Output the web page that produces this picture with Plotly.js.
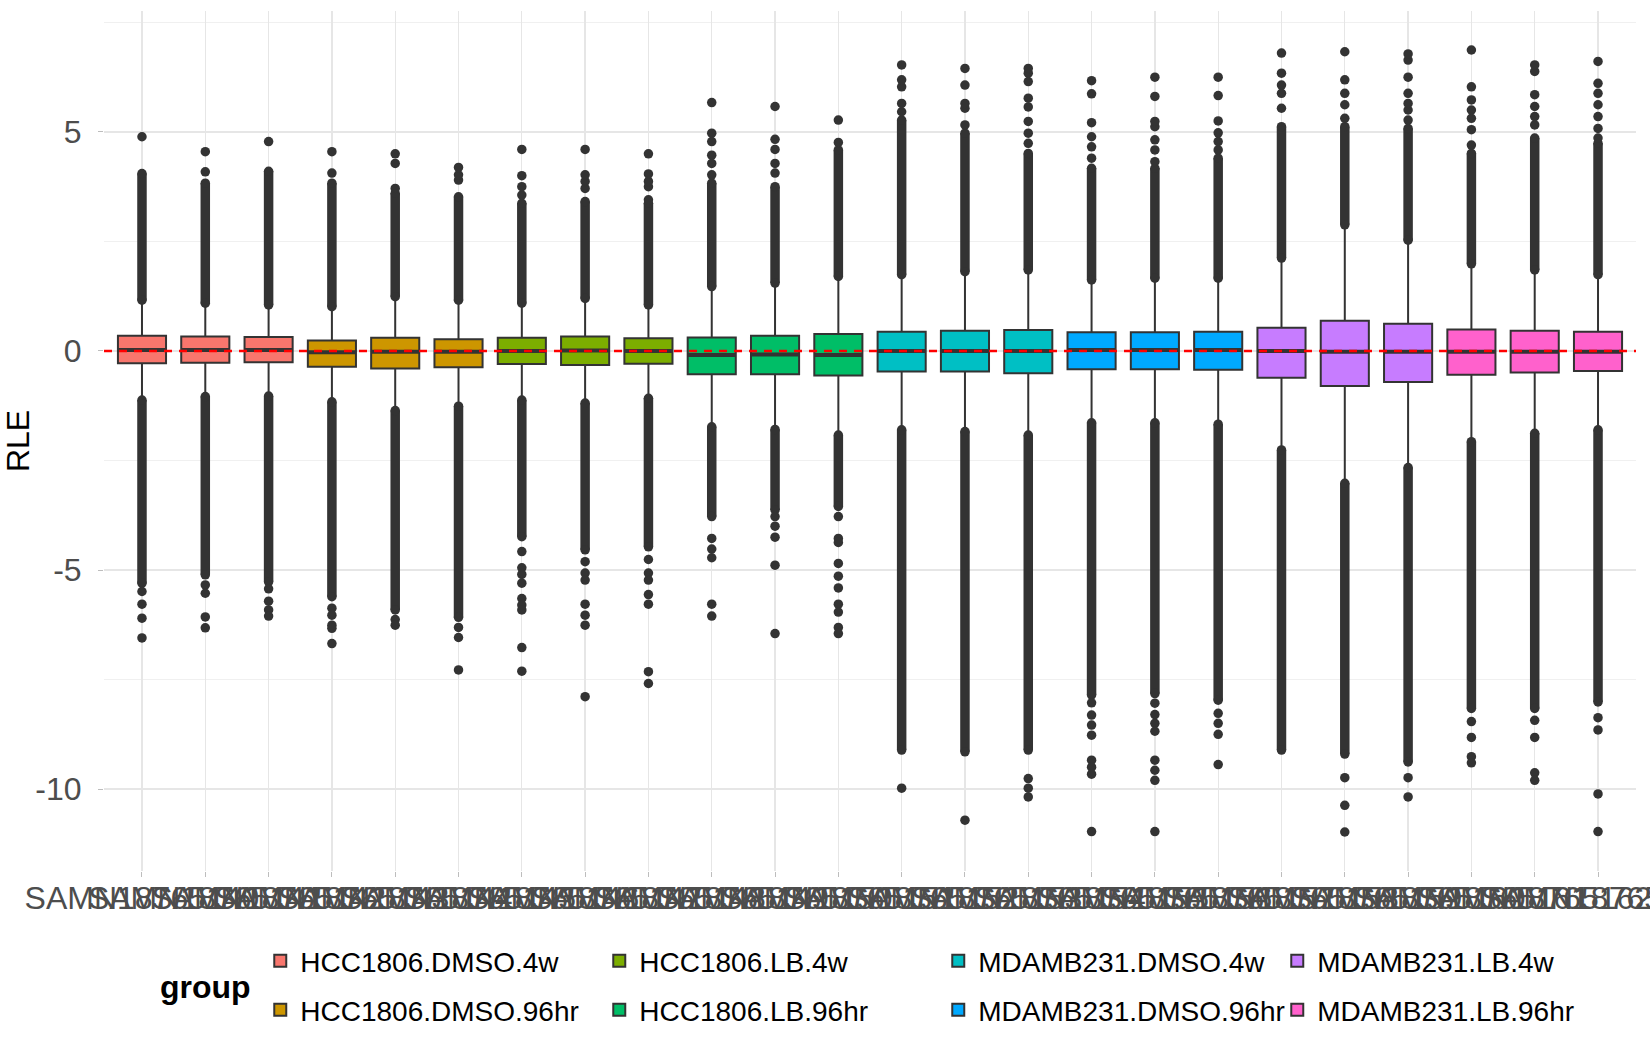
<!DOCTYPE html>
<html>
<head>
<meta charset="utf-8">
<script src="https://cdn.plot.ly/plotly-3.0.1.min.js"></script>
<style>
  body { margin: 0; background: #fff; }
  #plot { width: 1650px; height: 1050px; }
</style>
</head>
<body>
<div id="plot"></div>
<script>
// sample ids along the x axis
var samples = ['SAMN18765140','SAMN18765141','SAMN18765142','SAMN18765143','SAMN18765144','SAMN18765145',
   'SAMN18765146','SAMN18765147','SAMN18765148','SAMN18765149','SAMN18765150','SAMN18765151',
   'SAMN18765152','SAMN18765153','SAMN18765154','SAMN18765155','SAMN18765156','SAMN18765157',
   'SAMN18765158','SAMN18765159','SAMN18765160','SAMN18765161','SAMN18765162','SAMN18765163'];

var groupNames = ['HCC1806.DMSO.4w','HCC1806.DMSO.96hr','HCC1806.LB.4w','HCC1806.LB.96hr',
   'MDAMB231.DMSO.4w','MDAMB231.DMSO.96hr','MDAMB231.LB.4w','MDAMB231.LB.96hr'];
var groupColors = ['#F8766D','#CD9600','#7CAE00','#00BE67','#00BFC4','#00A9FF','#C77CFF','#FF61CC'];
var sampleGroup = [0,0,0,1,1,1,2,2,2,3,3,3,4,4,4,5,5,5,6,6,6,7,7,7];

// box stats (RLE)
var q1 = [-0.28,-0.27,-0.26,-0.36,-0.40,-0.37,-0.30,-0.32,-0.29,-0.53,-0.53,-0.56,
   -0.47,-0.47,-0.51,-0.42,-0.42,-0.43,-0.61,-0.80,-0.71,-0.54,-0.49,-0.46];
var median = [0.02,0.02,0.02,-0.03,-0.02,-0.02,0.00,0.01,0.00,-0.09,-0.08,-0.09,
   0.00,0.00,0.00,0.02,0.02,0.02,0.00,-0.02,-0.02,-0.02,-0.02,-0.02];
var q3 = [0.35,0.33,0.32,0.24,0.30,0.27,0.30,0.33,0.29,0.31,0.35,0.39,
   0.44,0.46,0.48,0.43,0.43,0.44,0.53,0.69,0.62,0.49,0.46,0.44];
var lowerWhisker = [-1.09,-1.01,-1.00,-1.13,-1.33,-1.23,-1.09,-1.16,-1.05,-1.70,-1.76,-1.89,
   -1.77,-1.81,-1.89,-1.61,-1.61,-1.64,-2.23,-2.99,-2.63,-2.04,-1.85,-1.77];
var upperWhisker = [1.13,1.06,1.02,0.98,1.21,1.13,1.06,1.17,1.02,1.44,1.52,1.67,
   1.71,1.78,1.82,1.59,1.63,1.63,2.09,2.85,2.50,1.96,1.82,1.71];

// runs of outliers so dense they merge into a solid bar
var upperRunLo = [1.16,1.09,1.05,1.01,1.24,1.16,1.09,1.20,1.05,1.47,1.55,1.70,
   1.74,1.81,1.85,1.62,1.66,1.66,2.12,2.88,2.53,1.99,1.85,1.74];
var upperRunHi = [4.05,3.83,4.10,3.83,3.60,3.52,3.37,3.41,3.37,3.83,3.75,4.59,
   5.27,4.97,4.51,4.17,4.17,4.40,5.12,5.12,5.08,4.51,4.86,4.74];
var lowerRunHi = [-1.12,-1.04,-1.03,-1.16,-1.36,-1.26,-1.12,-1.19,-1.08,-1.73,-1.79,-1.92,
   -1.80,-1.84,-1.92,-1.64,-1.64,-1.67,-2.26,-3.02,-2.66,-2.07,-1.88,-1.80];
var lowerRunLo = [-5.30,-5.11,-5.27,-5.61,-5.91,-6.08,-4.24,-4.54,-4.47,-3.78,-3.63,-3.55,
   -9.11,-9.15,-9.11,-7.85,-7.82,-7.97,-9.11,-9.20,-9.38,-8.16,-8.16,-8.01];

// separate outliers beyond the dense runs
var upperOutliers = [
   [4.89], [4.09,4.55], [4.78], [4.06,4.55], [3.71,4.28,4.50], [3.90,4.02,4.19],
   [3.56,3.75,4.00,4.60], [3.71,3.87,4.02,4.60], [3.45,3.75,3.87,4.04,4.50],
   [4.02,4.28,4.47,4.78,4.97,5.67], [4.06,4.28,4.60,4.83,5.58], [4.76,5.27],
   [5.46,5.65,6.03,6.19,6.53], [5.16,5.54,5.65,6.07,6.45], [4.74,4.97,5.24,5.57,5.77,6.15,6.34,6.45],
   [4.40,4.66,4.89,5.21,5.87,6.17], [4.32,4.59,4.82,5.12,5.24,5.81,6.25], [4.59,4.78,4.98,5.25,5.83,6.25],
   [5.54,5.88,6.07,6.34,6.80], [5.31,5.62,5.88,6.19,6.83], [5.27,5.50,5.65,5.88,6.25,6.64,6.78],
   [4.70,5.05,5.31,5.50,5.73,6.03,6.87], [5.16,5.35,5.58,5.85,6.38,6.53], [4.86,5.08,5.35,5.62,5.88,6.11,6.61]
];
var lowerOutliers = [
   [-5.49,-5.78,-6.10,-6.55], [-5.34,-5.53,-6.07,-6.32], [-5.43,-5.71,-5.91,-6.05],
   [-5.87,-6.03,-6.26,-6.33,-6.68], [-6.13,-6.26], [-6.31,-6.54,-7.28],
   [-4.58,-4.95,-5.10,-5.30,-5.65,-5.80,-5.91,-6.77,-7.31], [-4.81,-5.07,-5.23,-5.78,-6.03,-6.26,-7.89],
   [-4.76,-5.07,-5.23,-5.56,-5.78,-7.32,-7.59],
   [-4.28,-4.52,-4.72,-5.78,-6.05], [-3.78,-4.00,-4.25,-4.89,-6.45],
   [-3.78,-4.28,-4.37,-4.85,-5.14,-5.41,-5.78,-5.96,-6.31,-6.45],
   [-9.98], [-10.71], [-9.76,-9.98,-10.18],
   [-8.03,-8.31,-8.54,-8.77,-9.34,-9.50,-9.66,-10.97], [-8.04,-8.30,-8.50,-8.68,-9.34,-9.57,-9.80,-10.97],
   [-8.27,-8.50,-8.75,-9.44],
   [], [-9.74,-10.37,-10.98], [-9.74,-10.18],
   [-8.46,-8.82,-9.26,-9.40], [-8.43,-8.82,-9.63,-9.80], [-8.37,-8.65,-10.11,-10.97]
];

var yTicks = [-10, -5, 0, 5];

var dark = '#333333';
var boxWidth = 0.76;
var pos = samples.map(function(s, i){ return i; });

var traces = [];

// outlier runs: thick vertical bars with round ends from markers
var runX = [], runY = [];
pos.forEach(function(i){
   runX.push(i, i, null, i, i, null);
   runY.push(upperRunLo[i], upperRunHi[i], null, lowerRunHi[i], lowerRunLo[i], null);
});
traces.push({
   x: runX, y: runY, type: 'scatter', mode: 'lines+markers',
   line: {color: dark, width: 9.5},
   marker: {color: dark, size: 9.5},
   showlegend: false, hoverinfo: 'skip', connectgaps: false
});

var ptX = [], ptY = [];
pos.forEach(function(i){
   upperOutliers[i].concat(lowerOutliers[i]).forEach(function(v){
      ptX.push(i); ptY.push(v);
   });
});
traces.push({
   x: ptX, y: ptY, type: 'scatter', mode: 'markers',
   marker: {color: dark, size: 9.5},
   showlegend: false, hoverinfo: 'skip'
});

// one box trace per group
groupNames.forEach(function(name, g){
   var idx = pos.filter(function(i){ return sampleGroup[i] === g; });
   var is4w = name.indexOf('.4w') > 0;
   traces.push({
      type: 'box',
      name: name,
      x: idx,
      q1: idx.map(function(i){ return q1[i]; }),
      median: idx.map(function(i){ return median[i]; }),
      q3: idx.map(function(i){ return q3[i]; }),
      lowerfence: idx.map(function(i){ return lowerWhisker[i]; }),
      upperfence: idx.map(function(i){ return upperWhisker[i]; }),
      boxpoints: false,
      width: boxWidth,
      whiskerwidth: 0,
      fillcolor: groupColors[g],
      line: {color: dark, width: 2},
      legend: is4w ? 'legend' : 'legend2',
      hoverinfo: 'skip'
   });
});

// thicker median bars, as ggplot draws them
var medX = [], medY = [];
pos.forEach(function(i){
   medX.push(i - boxWidth / 2, i + boxWidth / 2, null);
   medY.push(median[i], median[i], null);
});
traces.push({
   x: medX, y: medY, type: 'scatter', mode: 'lines',
   line: {color: dark, width: 4},
   showlegend: false, hoverinfo: 'skip'
});

var font = '"Liberation Sans", Arial, sans-serif';
var legendCommon = {
   orientation: 'h',
   x: 0.102, xanchor: 'left',
   yref: 'container', yanchor: 'middle',
   entrywidth: 294, entrywidthmode: 'pixels',
   font: {family: font, size: 28, color: '#000000'},
   bgcolor: 'rgba(0,0,0,0)'
};

var layout = {
   width: 1650, height: 1050,
   margin: {l: 104, r: 14, t: 11, b: 179},
   paper_bgcolor: '#ffffff',
   plot_bgcolor: '#ffffff',
   font: {family: font},
   showlegend: true,
   xaxis: {
      range: [-0.6, samples.length - 0.4],
      tickmode: 'array', tickvals: pos, ticktext: samples,
      tickangle: 0, automargin: false, ticklabeloverflow: 'allow',
      ticklabelstandoff: -6,
      tickfont: {family: font, size: 32, color: '#4D4D4D'},
      ticks: 'outside', ticklen: 5, tickcolor: '#bdbdbd', tickwidth: 1,
      showgrid: true, gridcolor: '#e6e6e6', gridwidth: 1.3,
      zeroline: false, showline: false
   },
   yaxis: {
      range: [-11.87, 7.76], automargin: false,
      tickmode: 'array', tickvals: yTicks, ticktext: yTicks.map(String),
      tickfont: {family: font, size: 32, color: '#4D4D4D'},
      ticks: 'outside', ticklen: 5, tickcolor: '#bdbdbd', tickwidth: 1,
      ticklabelstandoff: 10,
      showgrid: true, gridcolor: '#e6e6e6', gridwidth: 1.3,
      minor: {tickmode: 'array', tickvals: [-7.5, -2.5, 2.5, 7.5], showgrid: true,
              gridcolor: '#f0f0f0', gridwidth: 1, ticks: ''},
      zeroline: false, showline: false,
      title: {text: 'RLE', font: {family: font, size: 32, color: '#000000'}, standoff: 17}
   },
   legend: Object.assign({y: 1 - 961 / 1050}, legendCommon),
   legend2: Object.assign({y: 1 - 1010 / 1050}, legendCommon),
   annotations: [{
      text: '<b>group</b>', xref: 'paper', yref: 'paper',
      x: 0.035, y: -0.135, xanchor: 'left', yanchor: 'middle',
      showarrow: false, font: {family: font, size: 32, color: '#000000'}
   }],
   shapes: [{
      type: 'line', xref: 'paper', yref: 'y', x0: 0, x1: 1, y0: 0, y1: 0,
      line: {color: '#FF0000', width: 2.5, dash: '8px,7px'}, layer: 'above'
   }]
};

Plotly.newPlot('plot', traces, layout, {staticPlot: true});
</script>
</body>
</html>
